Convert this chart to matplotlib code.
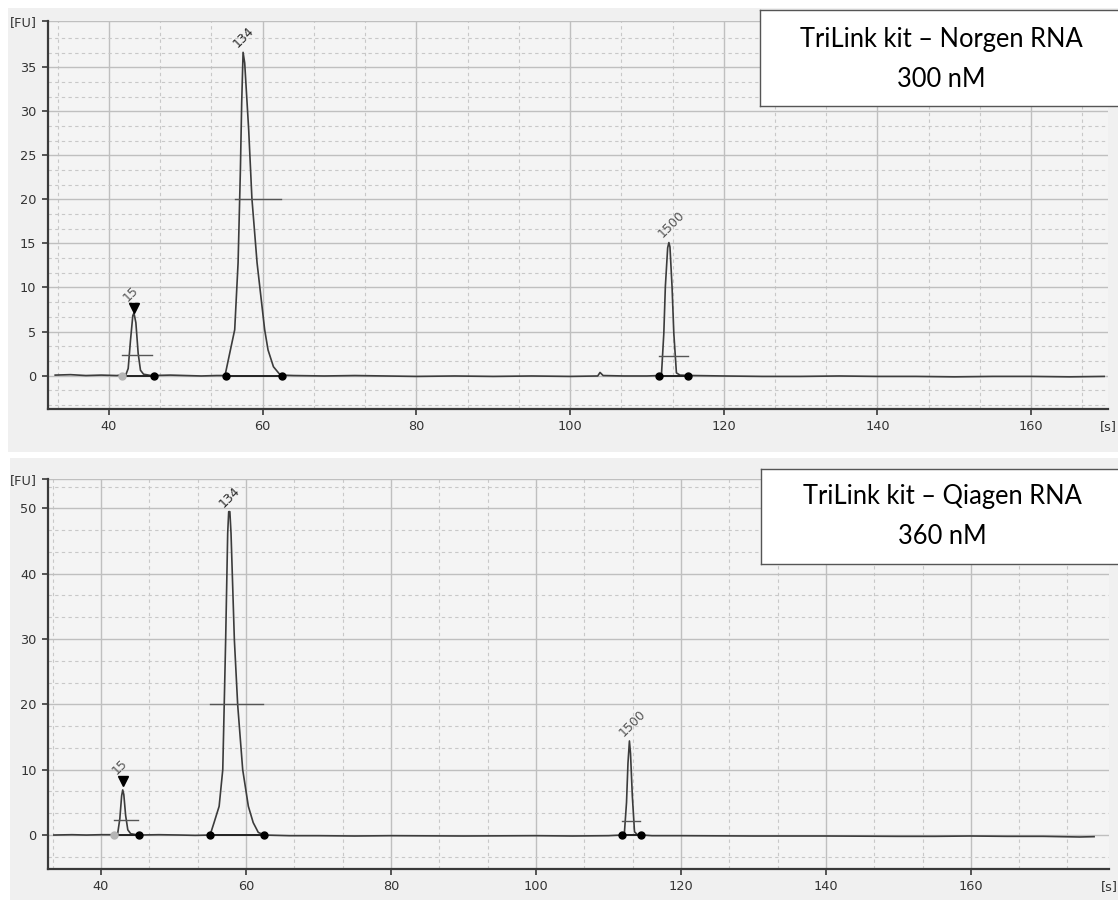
import matplotlib
matplotlib.use('Agg')
import matplotlib.pyplot as plt
from matplotlib.patches import Rectangle

# ---------------- data ----------------
top_trace = [(33.0, 0.05), (35.0, 0.1), (37.0, 0.0), (39.0, 0.05), (41.0, 0.0), (41.6, 0.05),
             (42.2, 0.1), (42.5, 0.8), (42.8, 4.0), (43.1, 6.8), (43.25, 7.1), (43.5, 6.0),
             (43.8, 2.5), (44.1, 0.6), (44.5, 0.15), (45.5, 0.0), (48.0, 0.05), (50.0, 0.0),
             (52.0, -0.05), (54.0, 0.0), (55.1, 0.0), (55.8, 2.9), (56.36, 5.2), (56.8, 12.8),
             (57.1, 23.3), (57.27, 31.0), (57.45, 36.7), (57.66, 35.5), (58.18, 27.9),
             (58.6, 20.1), (59.27, 12.8), (60.26, 5.2), (60.7, 2.9), (61.4, 1.0), (62.3, 0.05),
             (64.0, 0.0), (68.0, -0.05), (72.0, 0.0), (76.0, -0.05), (80.0, -0.1), (85.0, -0.05),
             (90.0, -0.1), (95.0, -0.05), (100.0, -0.1), (103.6, -0.05), (103.9, 0.35),
             (104.3, 0.0), (107.0, -0.05), (110.0, -0.05), (111.6, 0.0), (111.9, 0.2),
             (112.2, 4.8), (112.4, 10.1), (112.7, 14.5), (112.86, 15.1), (113.0, 14.6),
             (113.27, 10.1), (113.5, 4.8), (113.84, 0.3), (114.3, 0.05), (116.0, 0.0),
             (120.0, -0.05), (125.0, -0.1), (130.0, -0.1), (135.0, -0.05), (140.0, -0.1),
             (145.0, -0.1), (150.0, -0.15), (155.0, -0.1), (160.0, -0.1), (165.0, -0.15),
             (169.5, -0.1)]

bot_trace = [(33.5, 0.0), (36.0, 0.05), (38.0, 0.0), (40.0, 0.05), (41.8, 0.05), (42.3, 0.2),
             (42.6, 2.5), (42.85, 6.0), (43.0, 6.9), (43.15, 6.2), (43.4, 3.0), (43.7, 0.8),
             (44.1, 0.2), (45.2, 0.0), (48.0, 0.05), (51.0, 0.0), (53.0, -0.05), (55.05, 0.0),
             (55.6, 1.9), (56.3, 4.4), (56.8, 10.0), (57.0, 19.9), (57.2, 29.9), (57.48, 46.2),
             (57.62, 49.5), (57.78, 49.5), (57.94, 46.2), (58.4, 29.9), (58.86, 19.9),
             (59.55, 10.0), (60.33, 4.4), (61.0, 1.9), (61.7, 0.4), (62.5, 0.0), (66.0, -0.1),
             (70.0, -0.1), (75.0, -0.15), (80.0, -0.1), (90.0, -0.15), (100.0, -0.1),
             (105.0, -0.15), (110.0, -0.1), (111.9, 0.0), (112.2, 0.2), (112.5, 5.0),
             (112.7, 11.0), (112.9, 14.4), (113.05, 12.5), (113.3, 6.0), (113.6, 0.5),
             (114.0, 0.05), (116.0, -0.1), (120.0, -0.1), (130.0, -0.15), (140.0, -0.15),
             (150.0, -0.2), (155.0, -0.2), (160.0, -0.15), (165.0, -0.2), (170.0, -0.2),
             (175.0, -0.3), (177.0, -0.25)]

peak_labels = ['15', '134', '1500']

top_peak_x = [43.25, 57.45, 112.86]
top_peak_y = [7.1, 36.7, 15.1]
top_marker_y = 7.65
top_bar_y = [2.35, 20.1, 2.27]
top_bar_x0 = [41.65, 56.4, 111.6]
top_bar_x1 = [45.6, 62.4, 115.3]
top_dot_left = [41.65, 55.2, 111.6]
top_dot_right = [45.8, 62.5, 115.4]

bot_peak_x = [43.0, 57.7, 112.9]
bot_peak_y = [6.9, 49.5, 14.4]
bot_marker_y = 8.2
bot_bar_y = [2.35, 20.05, 2.2]
bot_bar_x0 = [41.84, 55.05, 111.9]
bot_bar_x1 = [45.06, 62.35, 114.4]
bot_dot_left = [41.84, 55.05, 111.93]
bot_dot_right = [45.25, 62.5, 114.47]

x_ticks = [40, 60, 80, 100, 120, 140, 160]
top_y_ticks = [0, 5, 10, 15, 20, 25, 30, 35]
bot_y_ticks = [0, 10, 20, 30, 40, 50]

top_title = ['TriLink kit \u2013 Norgen RNA', '300 nM']
bot_title = ['TriLink kit \u2013 Qiagen RNA', '360 nM']

# ---------------- figure ----------------
W, H = 1118, 905
fig = plt.figure(figsize=(W / 100, H / 100), dpi=100)
fig.patch.set_facecolor('white')

def fr(x0, y0, x1, y1):
    """pixel box -> figure fraction rect"""
    return [x0 / W, 1 - y1 / H, (x1 - x0) / W, (y1 - y0) / H]

# panel backgrounds
for (x0, y0, x1, y1) in [(8, 8, 1118, 452), (10, 458, 1118, 900)]:
    r = fr(x0, y0, x1, y1)
    fig.patches.append(Rectangle((r[0], r[1]), r[2], r[3], transform=fig.transFigure,
                                 facecolor='#f0f0f0', edgecolor='none', zorder=-10))

TRACE_C = '#3c3c3c'
GRID_C = '#bfbfbf'
SPINE_C = '#3a3a3a'
TXT_C = '#333333'


def make_panel(rect, xlim, ylim, yticks, trace, px, py, my, by, bx0, bx1, dl, dr, title, tbox):
    ax = fig.add_axes(rect)
    ax.set_zorder(1)
    ax.set_facecolor('#f4f4f4')
    ax.set_xlim(*xlim)
    ax.set_ylim(*ylim)
    for s in ['top', 'right']:
        ax.spines[s].set_visible(False)
    for s in ['left', 'bottom']:
        ax.spines[s].set_color(SPINE_C)
        ax.spines[s].set_linewidth(1.6)

    xt = list(x_ticks) + [xlim[1]]
    ax.set_xticks(xt)
    ax.set_xticklabels([str(v) for v in x_ticks] + ['[s]'])
    yt = list(yticks) + [ylim[1]]
    ax.set_yticks(yt)
    ax.set_yticklabels([str(v) for v in yticks] + ['[FU]'])

    # minor ticks: thirds of major steps
    xstep = (x_ticks[1] - x_ticks[0]) / 3.0
    xm = []
    v = x_ticks[0] - xstep * 3
    while v < xlim[1]:
        for k in (1, 2):
            m = v + k * xstep
            if xlim[0] < m < xlim[1]:
                xm.append(m)
        v += xstep * 3
    ystep = (yticks[1] - yticks[0]) / 3.0
    ym = []
    v = yticks[0] - ystep * 6
    while v < ylim[1]:
        for k in (1, 2):
            m = v + k * ystep
            if ylim[0] < m < ylim[1]:
                ym.append(m)
        v += ystep * 3
    ax.set_xticks(xm, minor=True)
    ax.set_yticks(ym, minor=True)

    ax.tick_params(axis='both', which='major', length=4, width=1.2, color=SPINE_C,
                   labelsize=9.3, labelcolor=TXT_C, pad=4)
    ax.tick_params(axis='both', which='minor', length=0)
    ax.grid(which='major', color=GRID_C, linewidth=1.0, linestyle='-')
    ax.grid(which='minor', color='#c8c8c8', linewidth=0.8, linestyle=(0, (3, 3)))
    ax.set_axisbelow(True)
    # [s] tick: no tick mark, no gridline
    t = ax.xaxis.get_major_ticks()[-1]
    t.tick1line.set_visible(False)
    t.gridline.set_visible(False)

    xs = [p[0] for p in trace]
    ys = [p[1] for p in trace]
    ax.plot(xs, ys, color=TRACE_C, linewidth=1.2, zorder=3)

    # peak baselines
    for a, b in zip(dl, dr):
        ax.plot([a, b], [0, 0], color='#222222', linewidth=1.4, zorder=3)
    # width bars
    for yb, a, b in zip(by, bx0, bx1):
        ax.plot([a, b], [yb, yb], color='#555555', linewidth=1.0, zorder=4)
    # dots
    ax.plot(dl[0], 0, 'o', color='#b5b5b5', markersize=5, zorder=5)
    ax.plot(dl[1:], [0] * (len(dl) - 1), 'o', color='black', markersize=5, zorder=5)
    ax.plot(dr, [0] * len(dr), 'o', color='black', markersize=5, zorder=5)
    # marker triangle
    ax.plot(px[0], my, 'v', color='black', markersize=7.5, zorder=5)

    # labels
    ax.annotate(peak_labels[0], xy=(px[0], my), xytext=(-4, 4), textcoords='offset pixels',
                rotation=45, rotation_mode='anchor', ha='left', va='bottom', fontsize=9,
                color='#555555', zorder=6)
    ax.annotate(peak_labels[1], xy=(px[1], py[1]), xytext=(-3, 2), textcoords='offset pixels',
                rotation=45, rotation_mode='anchor', ha='left', va='bottom', fontsize=9,
                color='#2a2a2a', zorder=6)
    ax.annotate(peak_labels[2], xy=(px[2], py[2]), xytext=(-4, 2), textcoords='offset pixels',
                rotation=45, rotation_mode='anchor', ha='left', va='bottom', fontsize=9,
                color='#555555', zorder=6)

    # title box (drawn in an overlay axes so it sits above the plot)
    bx0p, by0p, bx1p, by1p, l1, l2 = tbox
    tax = fig.add_axes(fr(bx0p, by0p, bx1p, by1p))
    tax.set_zorder(5)
    tax.set_xlim(0, 1)
    tax.set_ylim(0, 1)
    tax.set_xticks([])
    tax.set_yticks([])
    tax.set_facecolor('white')
    for s in tax.spines.values():
        s.set_color('#555555')
        s.set_linewidth(1.0)
    hpx = by1p - by0p
    cx = 0.5 + 2.0 / (bx1p - bx0p)
    tax.text(cx, 1 - (l1 - by0p) / hpx, title[0], ha='center', va='center', fontsize=18.4,
             family='Lato', color='black', transform=tax.transAxes)
    tax.text(cx, 1 - (l2 - by0p) / hpx, title[1], ha='center', va='center', fontsize=18.4,
             family='Lato', color='black', transform=tax.transAxes)
    return ax


make_panel(fr(47.5, 21, 1108, 409), (32.0, 170.0), (-3.8, 40.26), top_y_ticks, top_trace,
           top_peak_x, top_peak_y, top_marker_y, top_bar_y, top_bar_x0, top_bar_x1,
           top_dot_left, top_dot_right, top_title, (760, 10, 1119, 106, 39, 79))

make_panel(fr(47.7, 479, 1109.3, 869), (32.65, 179.1), (-5.2, 54.5), bot_y_ticks, bot_trace,
           bot_peak_x, bot_peak_y, bot_marker_y, bot_bar_y, bot_bar_x0, bot_bar_x1,
           bot_dot_left, bot_dot_right, bot_title, (761, 469, 1119, 564, 496, 536))

fig.savefig('out.png', dpi=100)
